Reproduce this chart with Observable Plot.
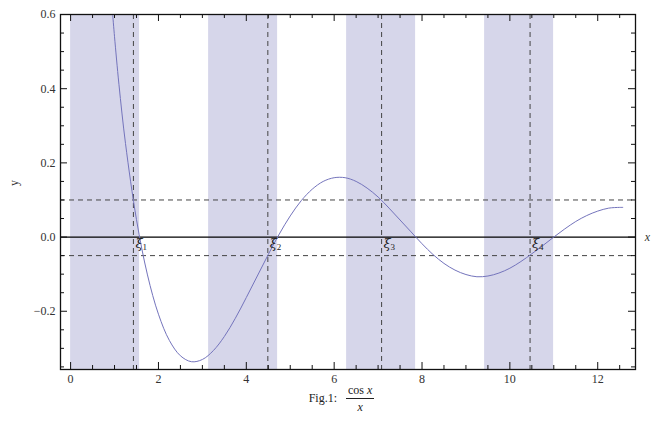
<!DOCTYPE html>
<html><head><meta charset="utf-8">
<script src="https://cdn.jsdelivr.net/npm/d3@7"></script>
<script src="https://cdn.jsdelivr.net/npm/@observablehq/plot@0.6"></script>
<style>
body{margin:0;background:#fff;}
#wrap{position:relative;width:651px;height:421px;overflow:hidden;font-family:"Liberation Serif","DejaVu Serif",serif;background:#fff;}
#cap{position:absolute;left:16px;top:383px;width:651px;display:flex;justify-content:center;align-items:center;font-size:12px;color:#222;font-family:"Liberation Serif",serif;}
.frac{display:inline-flex;flex-direction:column;align-items:center;margin-left:9px;line-height:14px;}
.frac .num{border-bottom:1px solid #222;padding:0 2px 1px;}
.frac .den{padding-top:1px;}
i{font-style:italic;}
</style></head>
<body>
<div id="wrap"><div id="chart"></div>
<div id="cap"><span>Fig.1:</span><span class="frac"><span class="num">cos <i>x</i></span><span class="den"><i>x</i></span></span></div>
</div>
<script>
// curve samples
const curveX = [0.96,1.0,1.1,1.25,1.5,1.75,2.0,2.25,2.5,2.75,3.0,3.25,3.5,3.75,4.0,4.25,4.5,4.75,5.0,5.25,5.5,5.75,6.0,6.25,6.5,6.75,7.0,7.25,7.5,7.75,8.0,8.25,8.5,8.75,9.0,9.25,9.5,9.75,10.0,10.25,10.5,10.75,11.0,11.25,11.5,11.75,12.0,12.25,12.5,12.57];
const curveY = [0.597,0.540,0.412,0.252,0.047,-0.102,-0.208,-0.279,-0.320,-0.336,-0.330,-0.306,-0.268,-0.219,-0.163,-0.105,-0.047,0.008,0.057,0.098,0.129,0.150,0.160,0.160,0.150,0.132,0.108,0.078,0.046,0.014,-0.018,-0.047,-0.071,-0.089,-0.101,-0.107,-0.105,-0.097,-0.084,-0.066,-0.045,-0.023,0.000,0.022,0.042,0.058,0.070,0.078,0.080,0.080];
// shaded bands
const bandStart = [0, 3.1416, 6.2832, 9.4248];
const bandEnd   = [1.5708, 4.7124, 7.8540, 10.9956];
// roots marked
const xiX = [1.43, 4.49, 7.08, 10.46];
const xiSub = ["1","2","3","4"];
// dashed horizontal levels
const levels = [0.1, -0.05];
// ticks
const xMajor = [0,2,4,6,8,10,12];
const xMinor = [0.5,1,1.5,2.5,3,3.5,4.5,5,5.5,6.5,7,7.5,8.5,9,9.5,10.5,11,11.5,12.5];
const yMajor = [-0.2,0,0.2,0.4,0.6];
const yMinor = [-0.35,-0.3,-0.25,-0.15,-0.1,-0.05,0.05,0.1,0.15,0.25,0.3,0.35,0.45,0.5,0.55];

const X0 = -0.23, X1 = 12.86, Y0 = -0.357, Y1 = 0.6;
const W = 651, H = 388, mL = 60, mR = 16, mT = 14, mB = 19;
const pxX = (W - mL - mR) / (X1 - X0), pxY = (H - mT - mB) / (Y1 - Y0);

const curve = curveX.map((x, i) => ({x, y: curveY[i]}));
const bands = bandStart.map((s, i) => ({x1: s, x2: bandEnd[i]}));
const xis = xiX.map((x, i) => ({x, sub: xiSub[i]}));

const serif = "'Liberation Serif','DejaVu Serif',serif";
const tickStroke = "#111";
const chart = Plot.plot({
  width: W, height: H,
  marginLeft: mL, marginRight: mR, marginTop: mT, marginBottom: mB,
  x: {domain: [X0, X1], axis: null},
  y: {domain: [Y0, Y1], axis: null},
  style: {fontFamily: serif, fontSize: "11px", background: "#fff", color: "#222"},
  marks: [
    Plot.rectX(bands, {x1: "x1", x2: "x2", y1: Y0, y2: Y1, fill: "#d6d6ea"}),
    Plot.ruleY(levels, {stroke: "#444", strokeWidth: 1, strokeDasharray: "5,4"}),
    Plot.ruleX(xiX, {stroke: "#444", strokeWidth: 1, strokeDasharray: "5,4"}),
    Plot.ruleY([0], {stroke: "#000", strokeWidth: 1.2}),
    Plot.line(curve, {x: "x", y: "y", stroke: "#7474bc", strokeWidth: 1, curve: "catmull-rom"}),
    Plot.text(xis, {x: "x", y: 0, text: () => "ξ", dx: 2, dy: 7, textAnchor: "start", fontSize: 13, fontStyle: "italic", fontFamily: "'DejaVu Serif',serif", fill: "#222"}),
    Plot.text(xis, {x: "x", y: 0, text: "sub", dx: 9, dy: 10, textAnchor: "start", fontSize: 9, fontFamily: serif, fill: "#222"}),
    // tick marks (inward) on all four sides
    Plot.ruleX(xMajor, {y1: Y0, y2: Y0 + 7 / pxY, stroke: tickStroke}),
    Plot.ruleX(xMinor, {y1: Y0, y2: Y0 + 4 / pxY, stroke: tickStroke}),
    Plot.ruleX(xMajor, {y1: Y1, y2: Y1 - 7 / pxY, stroke: tickStroke}),
    Plot.ruleX(xMinor, {y1: Y1, y2: Y1 - 4 / pxY, stroke: tickStroke}),
    Plot.ruleY(yMajor, {x1: X0, x2: X0 + 7 / pxX, stroke: tickStroke}),
    Plot.ruleY(yMinor, {x1: X0, x2: X0 + 4 / pxX, stroke: tickStroke}),
    Plot.ruleY(yMajor, {x1: X1, x2: X1 - 7 / pxX, stroke: tickStroke}),
    Plot.ruleY(yMinor, {x1: X1, x2: X1 - 4 / pxX, stroke: tickStroke}),
    Plot.frame({stroke: "#111", strokeWidth: 1.3}),
    Plot.axisX({ticks: xMajor, tickSize: 0, tickPadding: 5, tickFormat: d => String(d), fill: "#333", fontSize: 12}),
    Plot.axisY({ticks: yMajor, tickSize: 0, tickPadding: 5, tickFormat: d3.format(".1f"), fill: "#333", fontSize: 12, label: null}),
    Plot.text(["y"], {frameAnchor: "left", dx: -46, dy: -6, rotate: -90, text: d => d, fontSize: 12, fill: "#333"}),
    Plot.text(["x"], {x: X1, y: 0, dx: 12, text: d => d, fontStyle: "italic", fontSize: 12, fill: "#333"})
  ]
});
document.getElementById("chart").appendChild(chart);
</script>
</body></html>
